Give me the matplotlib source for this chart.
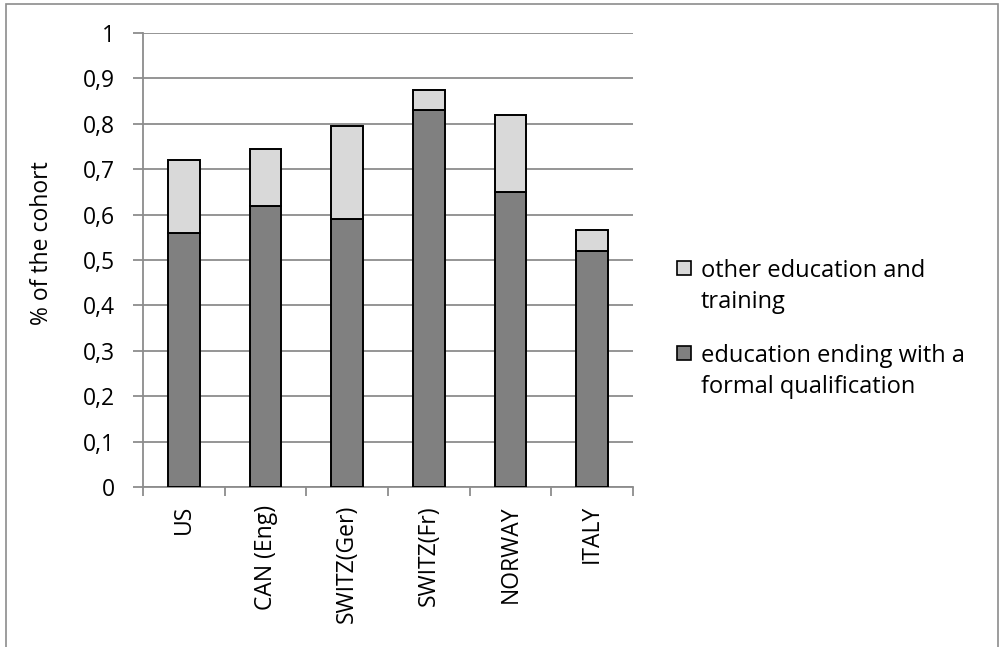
import matplotlib
matplotlib.use("Agg")
import matplotlib.pyplot as plt
from matplotlib.patches import Rectangle
import numpy as np

categories = ["US", "CAN (Eng)", "SWITZ(Ger)", "SWITZ(Fr)", "NORWAY", "ITALY"]
formal_qualification = [0.56, 0.62, 0.59, 0.83, 0.65, 0.52]
other_training = [0.16, 0.125, 0.205, 0.045, 0.17, 0.045]
y_ticks = [0, 0.1, 0.2, 0.3, 0.4, 0.5, 0.6, 0.7, 0.8, 0.9, 1.0]
y_tick_labels = ["0", "0,1", "0,2", "0,3", "0,4", "0,5", "0,6", "0,7", "0,8", "0,9", "1"]
legend_labels = [["other education and", "training"],
                 ["education ending with a", "formal qualification"]]

plt.rcParams["font.family"] = ["Open Sans", "DejaVu Sans"]
FS = 16.5

W, H = 999, 647
fig = plt.figure(figsize=(W / 100, H / 100), dpi=100)

# outer chart frame
fig.patches.append(Rectangle((6 / W, -0.05), (998 - 6) / W, 1.05 - 4 / H,
                             transform=fig.transFigure, fill=False,
                             edgecolor="#8c8c8c", linewidth=1.2))

ax = fig.add_axes([143 / W, 1 - 487 / H, (633 - 143) / W, (487 - 33) / H])

dark = "#808080"
light = "#d9d9d9"
grid_c = "#8c8c8c"

x = np.arange(len(categories))
ax.bar(x, formal_qualification, width=0.385, color=dark, edgecolor="black",
       linewidth=1.4, zorder=3)
ax.bar(x, other_training, width=0.385, bottom=formal_qualification, color=light,
       edgecolor="black", linewidth=1.4, zorder=3)

ax.set_xlim(-0.5, len(categories) - 0.5)
ax.set_ylim(0, 1)
ax.set_yticks(y_ticks)
ax.set_yticklabels(y_tick_labels, fontsize=FS)
ax.yaxis.grid(True, color=grid_c, linewidth=1.3, zorder=0)
ax.set_axisbelow(True)

ax.set_xticks(x)
ax.set_xticklabels(categories, rotation=90, fontsize=FS)
ax.tick_params(axis="x", which="major", length=0, pad=13)
ax.set_xticks(np.arange(-0.5, len(categories), 1.0), minor=True)
ax.tick_params(axis="x", which="minor", length=6.5, width=1.3, color=grid_c)
ax.tick_params(axis="y", length=7, width=1.3, color=grid_c, pad=13)

for side in ("top", "right"):
    ax.spines[side].set_visible(False)
for side in ("left", "bottom"):
    ax.spines[side].set_color(grid_c)
    ax.spines[side].set_linewidth(1.3)

ax.set_ylabel("% of the cohort", fontsize=FS, va="center")
ax.yaxis.set_label_coords(-0.207, 0.537)

# legend: swatch beside the first line of each two-line label
swatch_colors = [light, dark]
swatch_centers = [268, 353]
LINE_STEP = 31.7
for color, yc, lines in zip(swatch_colors, swatch_centers, legend_labels):
    fig.patches.append(Rectangle((677 / W, 1 - (yc + 7) / H), 14 / W, 14 / H,
                                 transform=fig.transFigure, facecolor=color,
                                 edgecolor="black", linewidth=1.2))
    for i, line in enumerate(lines):
        fig.text(701 / W, 1 - (yc + 8.7 + i * LINE_STEP) / H, line, fontsize=17,
                 ha="left", va="baseline")

fig.savefig("out.png", dpi=100)
